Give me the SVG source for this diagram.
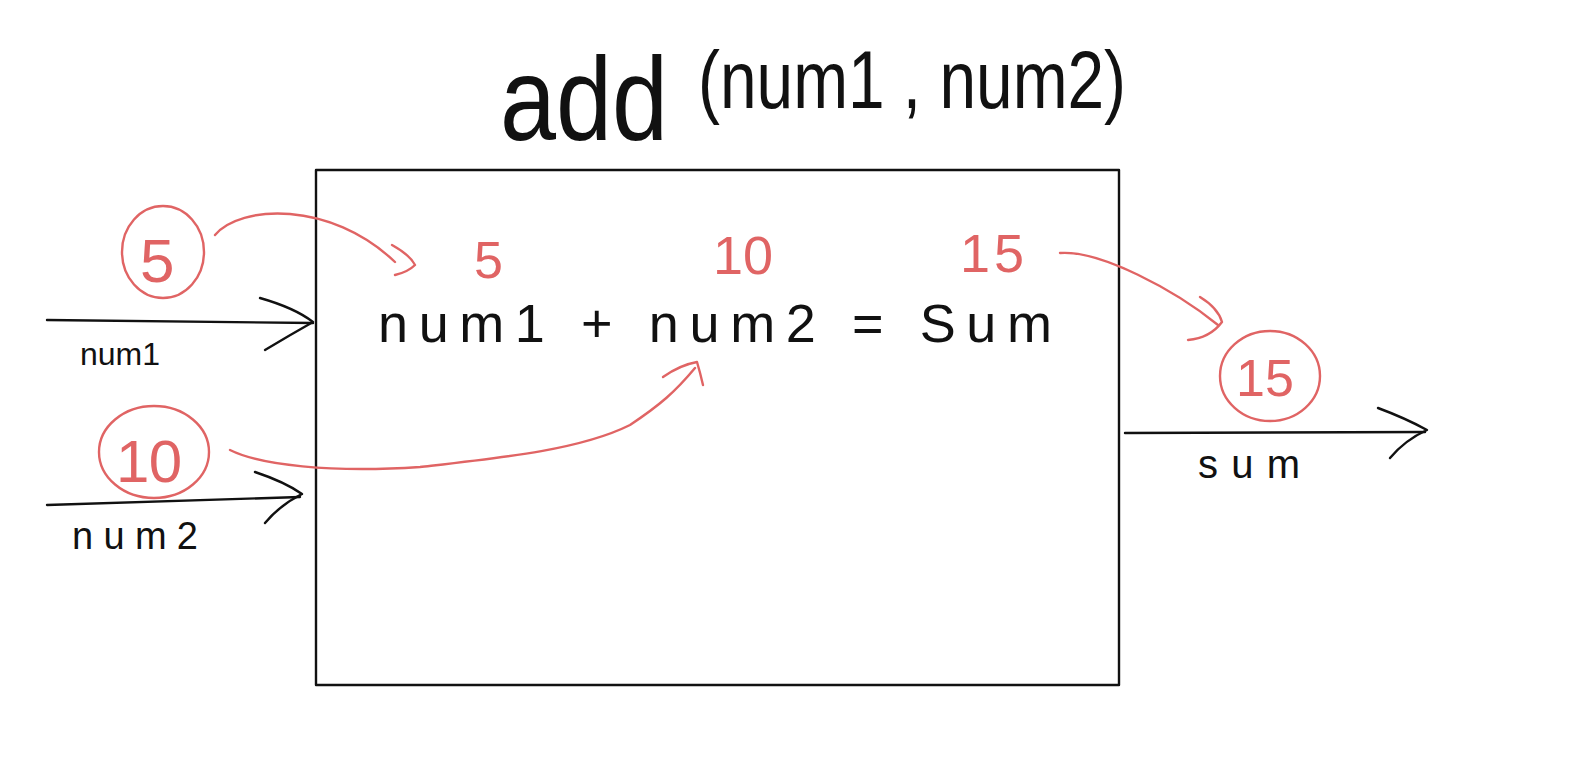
<svg xmlns="http://www.w3.org/2000/svg" width="1569" height="765" viewBox="0 0 1569 765">
<style>
.ink{fill:none;stroke:#111;stroke-width:2.4;stroke-linecap:round;stroke-linejoin:round}
.red{fill:none;stroke:#e06464;stroke-width:2.4;stroke-linecap:round;stroke-linejoin:round}
.bt{font-family:"Liberation Sans",Arial,sans-serif;fill:#111}
.rt{font-family:"Liberation Sans",Arial,sans-serif;fill:#e06464}
</style>
<rect width="1569" height="765" fill="#fff"/>
<g id="title">
<text class="bt" x="500" y="140" font-size="118" textLength="168" lengthAdjust="spacingAndGlyphs">add</text>
<text class="bt" x="698" y="108" font-size="82" textLength="428" lengthAdjust="spacingAndGlyphs">(num1 , num2)</text>
</g>
<g id="box">
<rect x="316" y="170" width="803" height="515" class="ink"/>
<text class="bt" x="378" y="342" font-size="54" textLength="674" lengthAdjust="spacing">num1 + num2 = Sum</text>
<text class="rt" x="474" y="278" font-size="52">5</text>
<text class="rt" x="713" y="274" font-size="54" textLength="60" lengthAdjust="spacing">10</text>
<text class="rt" x="960" y="272" font-size="54" textLength="64" lengthAdjust="spacing">15</text>
</g>
<g id="in5">
<ellipse cx="163" cy="252" rx="41" ry="46" class="red"/>
<text class="rt" x="140" y="282" font-size="62">5</text>
</g>
<g id="in10">
<ellipse cx="154" cy="452" rx="55" ry="46" class="red"/>
<text class="rt" x="116" y="482" font-size="60" textLength="66" lengthAdjust="spacing">10</text>
</g>
<g id="out15">
<ellipse cx="1270" cy="376" rx="50" ry="45" class="red"/>
<text class="rt" x="1236" y="396" font-size="52">15</text>
</g>
<g id="labels">
<text class="bt" x="80" y="365" font-size="32">num1</text>
<text class="bt" x="72" y="549" font-size="38" textLength="126" lengthAdjust="spacing">num2</text>
<text class="bt" x="1198" y="478" font-size="40" textLength="102" lengthAdjust="spacing">sum</text>
</g>
<g id="connectors">
<path class="ink" d="M47,320 L313,323"/>
<path class="ink" d="M260,298 Q295,308 313,322 Q290,335 265,350"/>
<path class="ink" d="M47,505 L300,497"/>
<path class="ink" d="M255,472 Q285,482 302,494 Q280,505 265,523"/>
<path class="ink" d="M1125,433 L1425,432"/>
<path class="ink" d="M1378,408 Q1405,418 1427,430 Q1405,440 1390,458"/>
<path class="red" d="M215,235 C240,205 330,200 395,262"/>
<path class="red" d="M392,245 Q410,255 415,265 Q408,272 395,275"/>
<path class="red" d="M230,450 C260,465 330,473 420,467 C500,458 580,450 630,425 C660,405 675,392 695,368"/>
<path class="red" d="M663,377 Q680,365 697,362 Q700,372 703,385"/>
<path class="red" d="M1060,253 C1100,250 1175,290 1218,325"/>
<path class="red" d="M1200,297 Q1218,308 1222,322 Q1210,338 1188,340"/>
</g>
</svg>
